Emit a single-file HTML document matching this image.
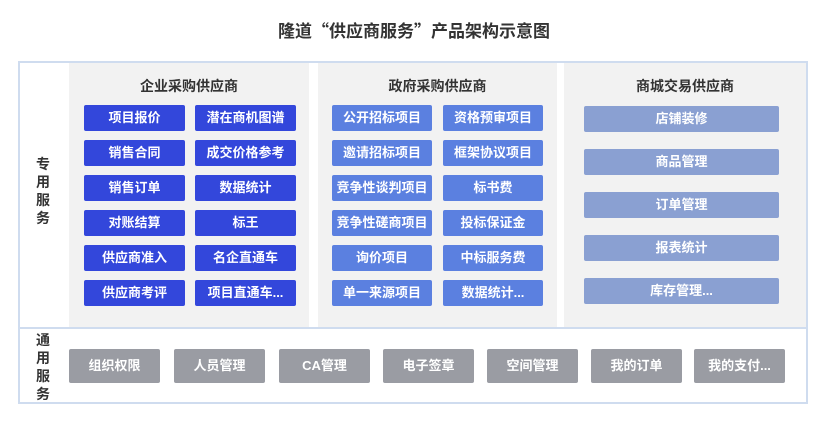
<!DOCTYPE html>
<html><head><meta charset="utf-8"><style>
*{margin:0;padding:0;box-sizing:border-box}
body{width:828px;height:429px;background:#fff;position:relative;font-family:"Liberation Sans","Noto Sans CJK SC",sans-serif;overflow:hidden}
.a{position:absolute}
.t{left:0;width:828px;top:17px;text-align:center;font-size:17px;font-weight:bold;color:#333;font-family:"Noto Sans CJK SC",sans-serif;line-height:26px}
.frame{left:18px;top:61px;width:790px;height:343px;border:2px solid #cfdcef}
.div{left:18px;top:327px;width:790px;height:2px;background:#cfdcef}
.col{background:#f2f2f2}
.h{font-size:14px;font-weight:bold;color:#333;text-align:center}
.b{position:absolute;height:26px;line-height:26px;text-align:center;color:#fff;font-size:13px;font-weight:bold;border-radius:2px}
.c1{background:#3347db;width:101px}
.c2{background:#5b80e0;width:100px}
.c3{background:#8aa0d2;width:195px;left:584px}
.g{background:#9a9ca3;width:91px;top:349px;height:34px;line-height:34px}
.lab{font-size:14px;font-weight:bold;color:#333;width:20px;text-align:center;line-height:18px}
</style></head><body>
<div class="a t">隆道“供应商服务”产品架构示意图</div>
<div class="a frame"></div>
<div class="a div"></div>
<div class="a col" style="left:69px;top:63px;width:240px;height:264px"></div>
<div class="a col" style="left:318px;top:63px;width:239px;height:264px"></div>
<div class="a col" style="left:564px;top:63px;width:242px;height:264px"></div>
<div class="a h" style="left:69px;width:240px;top:76px">企业采购供应商</div>
<div class="a h" style="left:318px;width:239px;top:76px">政府采购供应商</div>
<div class="a h" style="left:564px;width:242px;top:76px">商城交易供应商</div>
<div class="a lab" style="left:33px;top:155px">专<br>用<br>服<br>务</div>
<div class="a lab" style="left:33px;top:331px">通<br>用<br>服<br>务</div>

<div class="b c1" style="left:84px;top:105px">项目报价</div>
<div class="b c1" style="left:195px;top:105px">潜在商机图谱</div>
<div class="b c1" style="left:84px;top:140px">销售合同</div>
<div class="b c1" style="left:195px;top:140px">成交价格参考</div>
<div class="b c1" style="left:84px;top:175px">销售订单</div>
<div class="b c1" style="left:195px;top:175px">数据统计</div>
<div class="b c1" style="left:84px;top:210px">对账结算</div>
<div class="b c1" style="left:195px;top:210px">标王</div>
<div class="b c1" style="left:84px;top:245px">供应商准入</div>
<div class="b c1" style="left:195px;top:245px">名企直通车</div>
<div class="b c1" style="left:84px;top:280px">供应商考评</div>
<div class="b c1" style="left:195px;top:280px">项目直通车...</div>

<div class="b c2" style="left:332px;top:105px">公开招标项目</div>
<div class="b c2" style="left:443px;top:105px">资格预审项目</div>
<div class="b c2" style="left:332px;top:140px">邀请招标项目</div>
<div class="b c2" style="left:443px;top:140px">框架协议项目</div>
<div class="b c2" style="left:332px;top:175px">竞争性谈判项目</div>
<div class="b c2" style="left:443px;top:175px">标书费</div>
<div class="b c2" style="left:332px;top:210px">竞争性磋商项目</div>
<div class="b c2" style="left:443px;top:210px">投标保证金</div>
<div class="b c2" style="left:332px;top:245px">询价项目</div>
<div class="b c2" style="left:443px;top:245px">中标服务费</div>
<div class="b c2" style="left:332px;top:280px">单一来源项目</div>
<div class="b c2" style="left:443px;top:280px">数据统计...</div>

<div class="b c3" style="top:106px">店铺装修</div>
<div class="b c3" style="top:149px">商品管理</div>
<div class="b c3" style="top:192px">订单管理</div>
<div class="b c3" style="top:235px">报表统计</div>
<div class="b c3" style="top:278px">库存管理...</div>

<div class="b g" style="left:69px">组织权限</div>
<div class="b g" style="left:174px">人员管理</div>
<div class="b g" style="left:279px">CA管理</div>
<div class="b g" style="left:383px">电子签章</div>
<div class="b g" style="left:487px">空间管理</div>
<div class="b g" style="left:591px">我的订单</div>
<div class="b g" style="left:694px">我的支付...</div>
</body></html>
